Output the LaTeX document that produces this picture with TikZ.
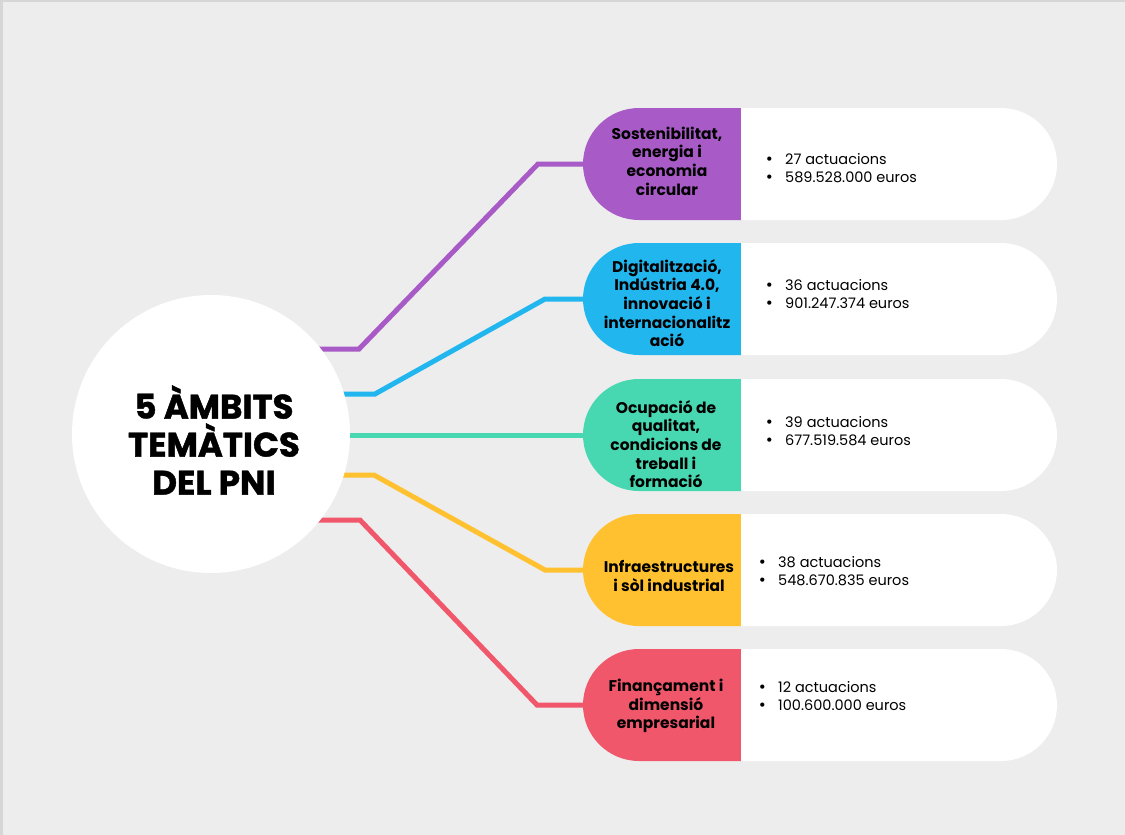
\documentclass[tikz,border=0pt]{standalone}
\usepackage{fontspec}
\setmainfont{Poppins}
\newfontfamily\ttlfont{Poppins}[BoldFeatures={FakeBold=1.3}]
\newfontfamily\bulfont{DejaVu Sans}
\usetikzlibrary{shapes.misc}
\definecolor{bgc}{HTML}{EDEDED}
\definecolor{bordc}{HTML}{D6D6D6}
\definecolor{cpur}{HTML}{A85BC6}
\definecolor{cblu}{HTML}{22B6EF}
\definecolor{cteal}{HTML}{47D7B1}
\definecolor{cyel}{HTML}{FFC12F}
\definecolor{cred}{HTML}{F0576B}
\newcommand{\bul}{\makebox[19pt][l]{\hspace{-1pt}{\bulfont •}}}
\pgfdeclarelayer{bg}
\pgfdeclarelayer{lines}
\pgfsetlayers{bg,lines,main}
\begin{document}
\begin{tikzpicture}[x=1pt,y=-1pt,
  head/.style={rounded rectangle, rounded rectangle right arc=none, minimum width=159pt, minimum height=112pt, inner sep=0pt, fill=#1},
  tail/.style={rounded rectangle, rounded rectangle left arc=none, minimum width=316pt, minimum height=112pt, inner sep=0pt, fill=white},
  headtxt/.style={font=\fontsize{15.5}{18.6}\selectfont\bfseries, align=center, text=black, inner sep=0pt},
  info/.style={font=\fontsize{14.5}{18}\selectfont, align=left, anchor=west, inner sep=0pt, text=black},
  conn/.style={line width=5pt, draw=#1},
  ttl/.style={font=\ttlfont\fontsize{34}{38}\selectfont\bfseries, align=center, inner sep=0pt, text=black}
]
\useasboundingbox (0,0) rectangle (1125,835);
\begin{pgfonlayer}{bg}
  \fill[bgc] (0,0) rectangle (1125,835);
  \fill[bordc] (0,0) rectangle (3,835);
  \fill[bordc] (0,0) rectangle (1125,2);
\end{pgfonlayer}

\node[circle, fill=white, minimum size=278pt, inner sep=0pt] (c) at (211,434) {};
\node[ttl] (title) at (214,440) {5 ÀMBITS\\TEMÀTICS\\DEL PNI};

% rows
\node[head=cpur] (h1) at (662.5,164) {};
\node[tail] (t1) at (899,164) {};
\node[head=cblu] (h2) at (662.5,299) {};
\node[tail] (t2) at (899,299) {};
\node[head=cteal] (h3) at (662.5,435) {};
\node[tail] (t3) at (899,435) {};
\node[head=cyel] (h4) at (662.5,570) {};
\node[tail] (t4) at (899,570) {};
\node[head=cred] (h5) at (662.5,705) {};
\node[tail] (t5) at (899,705) {};

\node[headtxt] (l1) at (667,161) {Sostenibilitat,\\energia i\\economia\\circular};
\node[headtxt] (l2) at (667,303) {Digitalització,\\Indústria 4.0,\\innovació i\\internacionalitz\\ació};
\node[headtxt] (l3) at (666,444) {Ocupació de\\qualitat,\\condicions de\\treball i\\formació};
\node[headtxt] (l4) at (669,576) {Infraestructures\\i sòl industrial};
\node[headtxt] (l5) at (666,706) {Finançament i\\dimensió\\empresarial};

\node[info] (i1) at (766,168) {\bul 27 actuacions\\\bul 589.528.000 euros};
\node[info] (i2) at (766,294) {\bul 36 actuacions\\\bul 901.247.374 euros};
\node[info] (i3) at (766,431) {\bul 39 actuacions\\\bul 677.519.584 euros};
\node[info] (i4) at (759,571) {\bul 38 actuacions\\\bul 548.670.835 euros};
\node[info] (i5) at (759,696) {\bul 12 actuacions\\\bul 100.600.000 euros};

% connector bends
\coordinate (p1a) at (359,349); \coordinate (p1b) at (538,164);
\coordinate (p2a) at (375,394); \coordinate (p2b) at (545,299);
\coordinate (p4a) at (374,475); \coordinate (p4b) at (545,570);
\coordinate (p5a) at (360,520); \coordinate (p5b) at (537,705);

\begin{pgfonlayer}{lines}
  \draw[conn=cpur] (c.center |- p1a) -- (p1a) -- (p1b) -- (h1.west);
  \draw[conn=cblu] (c.center |- p2a) -- (p2a) -- (p2b) -- (h2.west);
  \draw[conn=cteal] (c.center |- h3.west) -- (h3.west);
  \draw[conn=cyel] (c.center |- p4a) -- (p4a) -- (p4b) -- (h4.west);
  \draw[conn=cred] (c.center |- p5a) -- (p5a) -- (p5b) -- (h5.west);
\end{pgfonlayer}
\end{tikzpicture}
\end{document}
